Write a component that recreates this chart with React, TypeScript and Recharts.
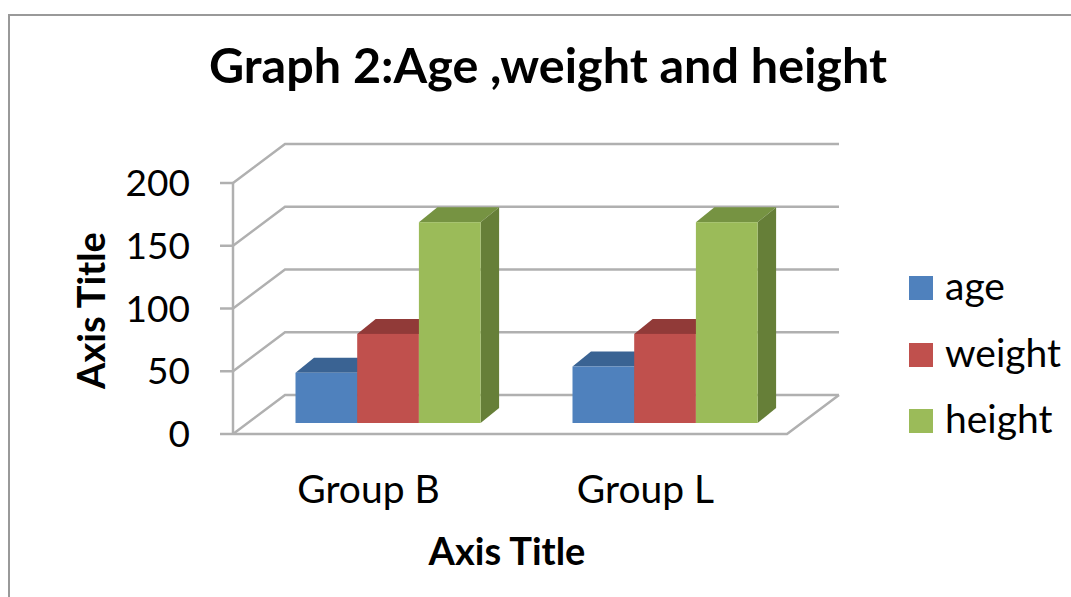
import React from "react";
import { BarChart, Bar, XAxis, YAxis, CartesianGrid, Legend } from "recharts";

const groups = ["Group B", "Group L"];
const age = [40, 45];
const weight = [71, 71];
const height = [160, 160];
const yTicks = [0, 50, 100, 150, 200];

const data = groups.map((group, i) => ({
  group,
  age: age[i],
  weight: weight[i],
  height: height[i],
}));

const FONT = "Lato, 'Open Sans', sans-serif";
const GRID = "#b0b0b0";

// box offset from the front of the plot, and how far the faces recede
const BOX_DX = 16.5;
const BOX_DY = -11;
const DEPTH_X = 18.5;
const DEPTH_Y = -15;
// wall and floor depth
const WALL_X = 52;
const WALL_Y = -39;

const Box3D = (props: any) => {
  const { x, y, width, height: h, fill, topFill, sideFill } = props;
  const l = x + BOX_DX;
  const r = l + width;
  const t = y + BOX_DY;
  const b = t + h;
  return (
    <g>
      <polygon
        points={`${l},${t} ${l + DEPTH_X},${t + DEPTH_Y} ${r + DEPTH_X},${t + DEPTH_Y} ${r},${t}`}
        fill={topFill}
      />
      <polygon
        points={`${r},${t} ${r + DEPTH_X},${t + DEPTH_Y} ${r + DEPTH_X},${b + DEPTH_Y} ${r},${b}`}
        fill={sideFill}
      />
      <rect x={l} y={t} width={width} height={h} fill={fill} />
    </g>
  );
};

// each gridline runs up the left wall and then along the back wall
const WallLine = (props: any) => {
  const { x1, x2, y1, index } = props;
  const isFloor = y1 >= 430;
  return (
    <g key={index} fill="none" stroke={GRID} strokeWidth={2.5}>
      <path d={`M${x1},${y1} L${x1 + WALL_X},${y1 + WALL_Y} L${x2 + WALL_X},${y1 + WALL_Y}`} />
      {isFloor && <path d={`M${x1},${y1} L${x2},${y1} L${x2 + WALL_X},${y1 + WALL_Y}`} />}
    </g>
  );
};

const LegendBlock = ({ payload }: any) => (
  <div style={{ fontFamily: FONT, fontSize: 39, color: "#000" }}>
    {(payload || []).map((entry: any) => (
      <div
        key={entry.value}
        style={{ display: "flex", alignItems: "center", height: 66.5 }}
      >
        <span
          style={{
            width: 24,
            height: 24,
            background: entry.color,
            marginRight: 12,
            display: "inline-block",
          }}
        />
        <span style={{ position: "relative", top: -3 }}>{entry.value}</span>
      </div>
    ))}
  </div>
);

const App = () => {
  return (
    <div
      style={{
        position: "fixed",
        left: 0,
        top: 0,
        width: 1071,
        height: 597,
        overflow: "hidden",
        background: "#fff",
      }}
    >
      <div
        style={{
          position: "absolute",
          left: 8,
          top: 14,
          width: 1100,
          height: 700,
          border: "2px solid #999",
        }}
      />
      <BarChart
        width={1071}
        height={597}
        data={data}
        margin={{ top: 183, right: 124, bottom: 0, left: 0 }}
        barSize={61.7}
        barGap={0}
        style={{ position: "absolute", left: 0, top: 0 }}
      >
        <text
          x={548}
          y={83}
          textAnchor="middle"
          fontFamily={FONT}
          fontWeight={700}
          fontSize={48.5}
          fill="#000"
        >
          Graph 2:Age ,weight and height
        </text>
        <CartesianGrid vertical={false} horizontal={(p: any) => <WallLine {...p} />} />
        <XAxis
          dataKey="group"
          height={163}
          axisLine={false}
          tickLine={false}
          tickMargin={35}
          tick={{ fontFamily: FONT, fontSize: 39, fill: "#000", dx: -3 }}
          label={{
            value: "Axis Title",
            position: "insideBottom",
            offset: 32,
            dx: -3,
            fontFamily: FONT,
            fontWeight: 700,
            fontSize: 38,
            fill: "#000",
          }}
        />
        <YAxis
          width={233}
          domain={[0, 200]}
          ticks={yTicks}
          interval={0}
          axisLine={{ stroke: GRID, strokeWidth: 2.5 }}
          tickLine={{ stroke: GRID, strokeWidth: 2.5 }}
          tickSize={13}
          tickMargin={30}
          tick={{ fontFamily: FONT, fontSize: 37, fill: "#000" }}
          label={{
            value: "Axis Title",
            angle: -90,
            position: "insideLeft",
            offset: 92,
            dy: 2,
            fontFamily: FONT,
            fontWeight: 700,
            fontSize: 38,
            fill: "#000",
            style: { textAnchor: "middle" },
          }}
        />
        <Legend
          layout="vertical"
          align="right"
          verticalAlign="middle"
          itemSorter={null}
          content={<LegendBlock />}
          wrapperStyle={{ left: 909, top: 255, right: "auto", width: 160 }}
        />
        <Bar
          dataKey="age"
          fill="#4f81bd"
          isAnimationActive={false}
          shape={<Box3D topFill="#3a6393" sideFill="#33587f" />}
        />
        <Bar
          dataKey="weight"
          fill="#c0504d"
          isAnimationActive={false}
          shape={<Box3D topFill="#913a38" sideFill="#7f3331" />}
        />
        <Bar
          dataKey="height"
          fill="#9bbb59"
          isAnimationActive={false}
          shape={<Box3D topFill="#769342" sideFill="#667f38" />}
        />
      </BarChart>
    </div>
  );
};

export default App;
